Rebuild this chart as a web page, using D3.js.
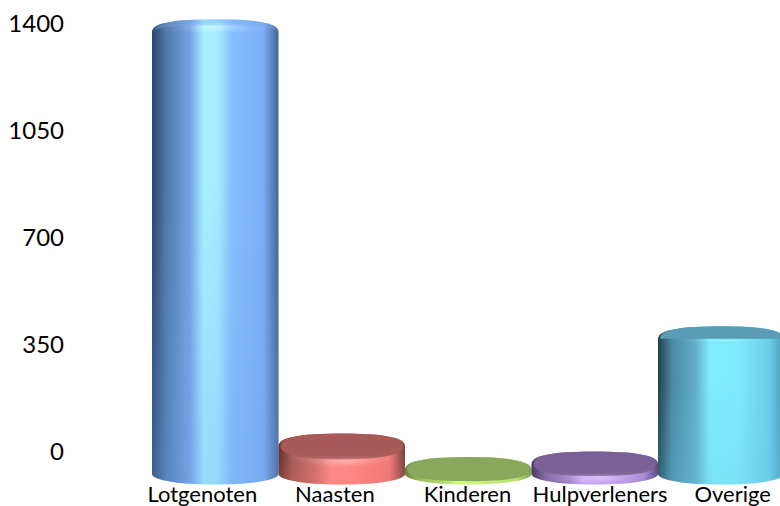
<!DOCTYPE html>
<html><head><meta charset="utf-8">
<script src="https://cdnjs.cloudflare.com/ajax/libs/d3/7.8.5/d3.min.js"></script>
<style>html,body{margin:0;background:#fff}svg{display:block}</style></head>
<body><div id="c"></div>
<script>
const categories = ["Lotgenoten","Naasten","Kinderen","Hulpverleners","Overige"];
const values = [1440,85,8,26,436];
const tickValues = [0,350,700,1050,1400];
const palette = [
 {stops:["#2c4468","#4f78a8","#74a4e2","#a8f0ff","#a4ecff","#86bfff","#7aaef5","#46648f"],face:"#78a8ec",faceOp:.35,fade:"#6ea2ee",fadeOp:.28},
 {stops:["#5e3231","#a85a58","#d27270","#ff8c88","#ff8c88","#ff8682","#ee7a76","#7a4240"],face:"#a85a58",faceOp:1,fade:"#e87470",fadeOp:.2},
 {stops:["#5f7a3e","#93b45c","#b4d86e","#d8fc88","#d8fc88","#ccf07e","#bce072","#7a9a50"],face:"#8aa85c",faceOp:1,fade:"#bce072",fadeOp:.2},
 {stops:["#42345c","#7a629c","#a084c8","#ccaafa","#ccaafa","#c6a4f2","#aa8cd6","#584676"],face:"#7a6196",faceOp:1,fade:"#aa8cd6",fadeOp:.2},
 {stops:["#223f4c","#4a8aa2","#62aecb","#80ecff","#80ecff","#80eaff","#6accea","#4d96ae"],face:"#5a9cb4",faceOp:1,fade:"#68c8e6",fadeOp:.25}
];
const stopAt = [0,.11,.3,.41,.52,.63,.88,1];
const W=780,H=506;
const svg=d3.select("#c").append("svg").attr("width",W).attr("height",H);
const y=d3.scaleLinear().domain([0,1400]).range([452,24]);
const xBar=d3.scaleBand().domain(categories).range([152,784.5]);
const xLab=d3.scaleBand().domain(categories).range([136,799]);
const faceRy=d3.scaleLinear().domain([0,100,436,1440]).range([12,13,6.3,3]);
const defs=svg.append("defs");
defs.append("filter").attr("id","soft").attr("x","-5%").attr("y","-5%").attr("width","110%").attr("height","110%")
  .append("feGaussianBlur").attr("stdDeviation",0.6);
defs.append("filter").attr("id","soft2").attr("x","-10%").attr("y","-80%").attr("width","120%").attr("height","260%")
  .append("feGaussianBlur").attr("stdDeviation",2);
const rim=defs.append("linearGradient").attr("id","rim");
[[0,0],[.25,.15],[.55,.6],[.8,.15],[1,0]].forEach(s=>rim.append("stop").attr("offset",s[0]).attr("stop-color","#fff").attr("stop-opacity",s[1]));
palette.forEach((p,i)=>{
  const g=defs.append("linearGradient").attr("id","side"+i);
  p.stops.forEach((c,j)=>g.append("stop").attr("offset",stopAt[j]).attr("stop-color",c));
  const f=defs.append("linearGradient").attr("id","fade"+i).attr("x1",0).attr("x2",0).attr("y1",0).attr("y2",1);
  f.append("stop").attr("offset",.35).attr("stop-color",p.fade).attr("stop-opacity",0);
  f.append("stop").attr("offset",1).attr("stop-color",p.fade).attr("stop-opacity",p.fadeOp);
});
const bottom=484.5, shoulder=12.5, baseCorner=474, topShift=7.5;
function bodyPath(v,cat){
  const x0=xBar(cat),w=xBar.bandwidth(),x1=x0+w,cx=x0+w/2,t=y(v)+topShift,c=t+shoulder;
  const b=Math.max(c,baseCorner),k=w*.32,p=d3.path();
  p.moveTo(x0,c);
  p.bezierCurveTo(x0,c-shoulder*.72,cx-k,t,cx,t);
  p.bezierCurveTo(cx+k,t,x1,c-shoulder*.72,x1,c);
  p.lineTo(x1,b);
  p.bezierCurveTo(x1,b+5.5,cx+k,bottom,cx,bottom);
  p.bezierCurveTo(cx-k,bottom,x0,b+5.5,x0,b);
  p.closePath();
  return p.toString();
}
function lowerEdge(v,cat,p,start){
  const x0=xBar(cat),w=xBar.bandwidth(),x1=x0+w,cx=x0+w/2,t=y(v)+topShift,c=t+shoulder;
  const low=t+2*faceRy(v),k=w*.32;
  if(start) p.moveTo(x1-2,c);
  p.bezierCurveTo(x1-2,c+(low-c)*.7,cx+k,low,cx,low);
  p.bezierCurveTo(cx-k,low,x0+2,c+(low-c)*.7,x0+2,c);
}
function facePath(v,cat){
  const x0=xBar(cat),w=xBar.bandwidth(),x1=x0+w,cx=x0+w/2,t=y(v)+topShift,c=t+shoulder;
  const k=w*.32,p=d3.path();
  p.moveTo(x0+2,c);
  p.bezierCurveTo(x0+2,c-shoulder*.72,cx-k,t,cx,t);
  p.bezierCurveTo(cx+k,t,x1-2,c-shoulder*.72,x1-2,c);
  lowerEdge(v,cat,p,false);
  p.closePath();
  return p.toString();
}
function rimPath(v,cat){const p=d3.path();lowerEdge(v,cat,p,true);return p.toString();}
const bars=svg.append("g").selectAll("g").data(categories).join("g");
bars.append("path").attr("d",(c,i)=>bodyPath(values[i],c)).attr("fill",(c,i)=>`url(#side${i})`).attr("filter","url(#soft)");
bars.append("path").attr("d",(c,i)=>bodyPath(values[i],c)).attr("fill",(c,i)=>`url(#fade${i})`).attr("filter","url(#soft)");
bars.append("path").attr("d",(c,i)=>facePath(values[i],c)).attr("fill",(c,i)=>palette[i].face).attr("fill-opacity",(c,i)=>palette[i].faceOp).attr("filter","url(#soft)");
bars.append("path").attr("d",(c,i)=>rimPath(values[i],c)).attr("fill","none").attr("stroke","url(#rim)").attr("stroke-width",(c,i)=>values[i]>20?4:0).attr("transform","translate(0,2)").attr("filter","url(#soft2)").attr("opacity",.8);
const axis=d3.axisLeft(y).tickValues(tickValues).tickSize(0).tickPadding(0).tickFormat(d3.format("d"));
const ga=svg.append("g").attr("transform","translate(64,0)").call(axis);
ga.select(".domain").remove();
ga.selectAll("text").attr("font-family","Lato").attr("font-size",24).attr("fill","#000");
svg.append("g").selectAll("text").data(categories).join("text")
  .attr("x",c=>xLab(c)+xLab.bandwidth()/2).attr("y",501.5).attr("text-anchor","middle")
  .attr("font-family","Lato").attr("font-size",22).attr("fill","#000").text(c=>c);
</script></body></html>
